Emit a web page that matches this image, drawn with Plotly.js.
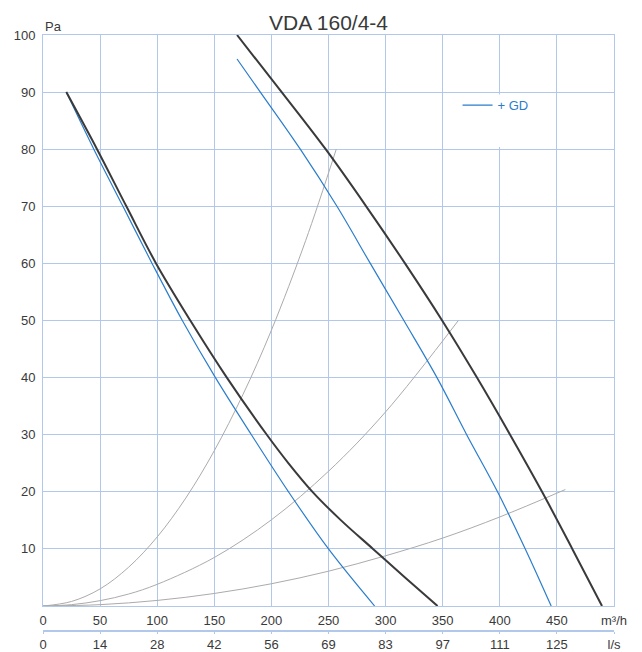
<!DOCTYPE html>
<html>
<head>
<meta charset="utf-8">
<script src="https://cdn.plot.ly/plotly-3.0.1.min.js"></script>
<style>
html,body{margin:0;padding:0;background:#fff;}
#chart{width:642px;height:652px;}
</style>
</head>
<body>
<div id="chart"></div>
<script>
// Axis ticks / labels
const flowTicks = [0, 50, 100, 150, 200, 250, 300, 350, 400, 450, 500];
const flowTickLabels = ['0', '50', '100', '150', '200', '250', '300', '350', '400', '450', 'm³/h'];
const lsTickLabels = ['0', '14', '28', '42', '56', '69', '83', '97', '111', '125', 'l/s'];
const pressureTicks = [10, 20, 30, 40, 50, 60, 70, 80, 90, 100];

// Fan curve 1 (dark) and with GD (blue)
const fan1Flow = [20.4, 47.3, 73, 99, 129, 161, 196, 215, 236, 261, 289, 317, 345.5];
const fan1Pressure = [90, 80, 70, 60, 50, 40, 30, 25, 20, 15, 10, 5, 0];
const fan1GdFlow = [20.4, 44.5, 70, 95.5, 122, 151, 182.5, 215, 250, 290.4];
const fan1GdPressure = [90, 80, 70, 60, 50, 40, 30, 20, 10, 0];

// Fan curve 2 (dark) and with GD (blue)
const fan2Flow = [169.9, 209, 247.5, 283, 317, 349.5, 380, 409, 437, 463.5, 489.5];
const fan2Pressure = [100, 90, 80, 70, 60, 50, 40, 30, 20, 10, 0];
const fan2GdFlow = [169.9, 190.3, 225.3, 257.4, 286.6, 316, 345, 371, 398, 422.3, 445];
const fan2GdPressure = [95.8, 90, 80, 70, 60, 50, 40, 30, 20, 10, 0];

// System curves (grey)
const sysAFlow = [0, 25, 50, 75, 100, 125, 150, 175, 200, 230, 256.8];
const sysAPressure = [0, 0.8, 3.0, 6.8, 12.1, 18.9, 27.2, 37, 48.3, 64, 80];
const sysBFlow = [0, 25, 50, 75, 100, 150, 200, 250, 300, 363.7];
const sysBPressure = [0, 0.24, 0.94, 2.1, 3.8, 8.5, 15.1, 23.6, 34, 50];
const sysCFlow = [0, 50, 100, 150, 200, 250, 300, 350, 400, 457.4];
const sysCPressure = [0, 0.24, 0.98, 2.2, 3.9, 6.1, 8.8, 11.9, 15.6, 20.4];

const gridColor = '#b2c8ea';
const textColor = '#3a3a3a';
const darkColor = '#3a3a3a';
const blueColor = '#2a7dcc';
const greyColor = '#ababab';
const fontFamily = '"Liberation Sans", Arial, sans-serif';

function line(x, y, color, width, name, showlegend) {
  return {
    type: 'scatter', mode: 'lines', x: x, y: y, name: name || '',
    line: {color: color, width: width, shape: 'spline', smoothing: 1},
    showlegend: !!showlegend, hoverinfo: 'skip'
  };
}

const traces = [
  line(sysAFlow, sysAPressure, greyColor, 1),
  line(sysBFlow, sysBPressure, greyColor, 1),
  line(sysCFlow, sysCPressure, greyColor, 1),
  line(fan1GdFlow, fan1GdPressure, blueColor, 1.2),
  line(fan2GdFlow, fan2GdPressure, blueColor, 1.2, '+ GD', true),
  line(fan1Flow, fan1Pressure, darkColor, 2),
  line(fan2Flow, fan2Pressure, darkColor, 2),
  {type: 'scatter', mode: 'none', x: [flowTicks[0], flowTicks[flowTicks.length - 1]], y: [null, null],
   xaxis: 'x2', yaxis: 'y', showlegend: false, hoverinfo: 'skip'}
];

const layout = {
  width: 642, height: 652,
  margin: {l: 43, r: 28, t: 35, b: 22, pad: 0},
  paper_bgcolor: '#ffffff', plot_bgcolor: '#ffffff',
  font: {family: fontFamily, size: 13, color: textColor},
  title: {
    text: 'VDA 160/4-4', font: {size: 21, color: textColor, family: fontFamily},
    x: 0.5, xref: 'paper', xanchor: 'center', y: 0.9655, yref: 'container', yanchor: 'middle'
  },
  xaxis: {
    range: [0, 500], tickvals: flowTicks, ticktext: flowTickLabels,
    showgrid: true, gridcolor: gridColor, gridwidth: 1,
    showline: true, mirror: true, linecolor: gridColor, linewidth: 1,
    zeroline: false, ticks: '', ticklabelstandoff: 2,
    tickfont: {size: 13, color: textColor}, fixedrange: true
  },
  xaxis2: {
    range: [0, 500], tickvals: flowTicks, ticktext: lsTickLabels,
    overlaying: 'x', anchor: 'free', position: 0, side: 'bottom',
    showgrid: false, zeroline: false,
    showline: true, linecolor: gridColor, linewidth: 1.5,
    ticks: 'outside', ticklen: 2, tickwidth: 1, tickcolor: gridColor,
    tickfont: {size: 13, color: textColor}, fixedrange: true
  },
  yaxis: {
    domain: [0.0403, 1], range: [0, 100], tickvals: pressureTicks,
    showgrid: true, gridcolor: gridColor, gridwidth: 1,
    showline: true, mirror: true, linecolor: gridColor, linewidth: 1,
    zeroline: false, ticks: '', ticklabelstandoff: 4,
    tickfont: {size: 13, color: textColor}, fixedrange: true
  },
  showlegend: true,
  legend: {
    x: 0.726, y: 0.882, xanchor: 'left', yanchor: 'middle',
    bgcolor: 'rgba(0,0,0,0)', borderwidth: 0,
    font: {size: 13, color: blueColor, family: fontFamily}
  },
  shapes: [{
    type: 'rect', xref: 'x', yref: 'y', x0: 352, x1: 448, y0: 80.4, y1: 89.6,
    fillcolor: '#ffffff', line: {width: 0}, layer: 'between'
  }],
  annotations: [{
    text: 'Pa', xref: 'paper', yref: 'paper', x: 0.0, y: 1.015,
    xanchor: 'left', yanchor: 'middle', showarrow: false,
    font: {size: 13, color: textColor, family: fontFamily}
  }]
};

Plotly.newPlot('chart', traces, layout, {staticPlot: true, displayModeBar: false});
</script>
</body>
</html>
